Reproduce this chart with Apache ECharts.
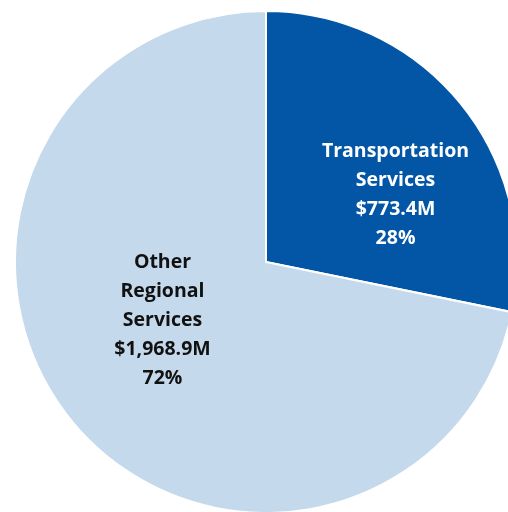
<!DOCTYPE html>
<html>
<head>
<meta charset="utf-8">
<script src="https://cdn.jsdelivr.net/npm/echarts@6/dist/echarts.min.js"></script>
<style>
  html, body { margin: 0; padding: 0; background: #ffffff; }
  #chart { width: 508px; height: 512px; }
</style>
</head>
<body>
<div id="chart"></div>
<script>
// Budget split by service area (millions of dollars)
const categories = ['Transportation\nServices', 'Other\nRegional\nServices'];
const amounts = [773.4, 1968.9];
const percents = [28, 72];
const sliceColors = ['#0356A6', '#C5D9ED'];
const labelColors = ['#ffffff', '#111111'];
// label nudges relative to the default inside position
const labelShift = [[30, 14], [-4, -23]];

const chart = echarts.init(document.getElementById('chart'));

const data = categories.map((name, i) => ({
  name: name,
  value: amounts[i],
  itemStyle: { color: sliceColors[i] },
  label: { color: labelColors[i] }
}));

chart.setOption({
  animation: false,
  series: [{
    type: 'pie',
    center: [266, 262],
    radius: [0, 251],
    startAngle: 90,
    clockwise: true,
    itemStyle: { borderColor: '#ffffff', borderWidth: 2 },
    label: {
      show: true,
      position: 'inside',
      fontFamily: 'Open Sans',
      fontWeight: 'bold',
      fontSize: 19.5,
      lineHeight: 29,
      align: 'center',
      formatter: p => {
        const i = p.dataIndex;
        const amt = '$' + amounts[i].toLocaleString('en-US', { minimumFractionDigits: 1, maximumFractionDigits: 1 }) + 'M';
        return categories[i] + '\n' + amt + '\n' + percents[i] + '%';
      }
    },
    labelLayout: p => ({ dx: labelShift[p.dataIndex][0], dy: labelShift[p.dataIndex][1] }),
    data: data
  }]
});
</script>
</body>
</html>
